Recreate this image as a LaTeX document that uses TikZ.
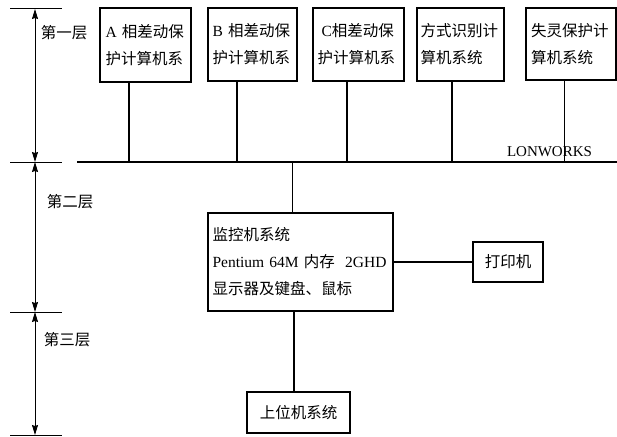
\documentclass[tikz,border=0pt]{standalone}
\usepackage{fontspec}
\setmainfont{Liberation Serif}
\newfontfamily\cjk{Noto Sans CJK SC}
\newcommand{\zhs}[1]{{\cjk #1}}
\usetikzlibrary{arrows.meta}
\begin{document}
\begin{tikzpicture}[x=1pt,y=-1pt,
  box/.style={draw,line width=1.1pt,inner sep=0pt,align=left,font=\fontsize{15.5}{27}\selectfont},
  wire/.style={line width=1.1pt},
  tick/.style={line width=1pt},
  dim/.style={line width=0.9pt,{Stealth[length=10pt,width=6pt,inset=1pt]}-{Stealth[length=10pt,width=6pt,inset=1pt]}},
  lbl/.style={font=\fontsize{15.5}{18}\selectfont,inner sep=0pt}]
\useasboundingbox (0,0) rectangle (617,436);

% layer ticks
\coordinate (t1l) at (10,9);   \coordinate (t1r) at (62,9);
\coordinate (t2l) at (10,162); \coordinate (t2r) at (62,162);
\coordinate (t3l) at (10,312); \coordinate (t3r) at (62,312);
\coordinate (t4l) at (10,435); \coordinate (t4r) at (62,435);
\draw[tick] (t1l) -- (t1r);
\draw[tick] (t2l) -- (t2r);
\draw[tick] (t3l) -- (t3r);
\draw[tick] (t4l) -- (t4r);
\coordinate (a1) at (35,9);
\coordinate (a2) at (35,162);
\coordinate (a3) at (35,312);
\coordinate (a4) at (35,435);
\draw[dim] (a1) -- (a2);
\draw[dim] (a2) -- (a3);
\draw[dim] (a3) -- (a4);
\node[lbl] (L1) at (64,33) {\zhs{第一层}};
\node[lbl] (L2) at (70,202) {\zhs{第二层}};
\node[lbl] (L3) at (67,340) {\zhs{第三层}};

% top boxes
\node[box,minimum width=91pt,minimum height=74pt,text width=80pt] (A) at (145.5,45) {A \zhs{相差动保}\\\zhs{护计算机系}};
\node[box,minimum width=89pt,minimum height=73pt,text width=80pt] (B) at (252.5,44.5) {B \zhs{相差动保}\\\zhs{护计算机系}};
\node[box,minimum width=91pt,minimum height=73pt,text width=82pt] (C) at (358.5,44.5) {\hspace{4pt}C\zhs{相差动保}\\\zhs{护计算机系}};
\node[box,minimum width=87pt,minimum height=73pt,text width=80pt] (D) at (460.5,44.5) {\zhs{方式识别计}\\\zhs{算机系统}};
\node[box,minimum width=90pt,minimum height=72pt,text width=80pt] (E) at (571,44) {\zhs{失灵保护计}\\\zhs{算机系统}};

% bus
\coordinate (busL) at (77,162);
\coordinate (busR) at (617,162);
\draw[line width=1.4pt] (busL) -- (busR);
\node[lbl,font=\fontsize{15}{18}\selectfont] (LW) at (549.5,152) {LONWORKS};

\coordinate (bA) at (129,162);
\coordinate (bB) at (237,162);
\coordinate (bC) at (347,162);
\coordinate (bD) at (452,162);
\coordinate (bE) at (564,162);
\coordinate (bM) at (292,162);
\draw[wire] (A.south -| bA) -- (bA);
\draw[wire] (B.south -| bB) -- (bB);
\draw[wire] (C.south -| bC) -- (bC);
\draw[wire] (D.south -| bD) -- (bD);
\draw[line width=0.7pt] (E.south -| bE) -- (bE);

% monitor
\node[box,minimum width=185pt,minimum height=98pt,text width=176pt] (M) at (300.5,262) {\zhs{监控机系统}\\Pentium 64M \zhs{内存}\ \ 2GHD\\\zhs{显示器及键盘、鼠标}};
\draw[line width=0.7pt] (bM) -- (M.north -| bM);

% printer
\node[box,minimum width=70pt,minimum height=40pt] (P) at (508,262) {\zhs{打印机}};
\draw[wire] (M.east |- P.west) -- (P.west);

% upper computer
\node[box,minimum width=103pt,minimum height=41pt] (U) at (298.5,412.5) {\zhs{上位机系统}};
\coordinate (uM) at (294,0);
\draw[line width=1.4pt] (M.south -| uM) -- (U.north -| uM);
\end{tikzpicture}
\end{document}
